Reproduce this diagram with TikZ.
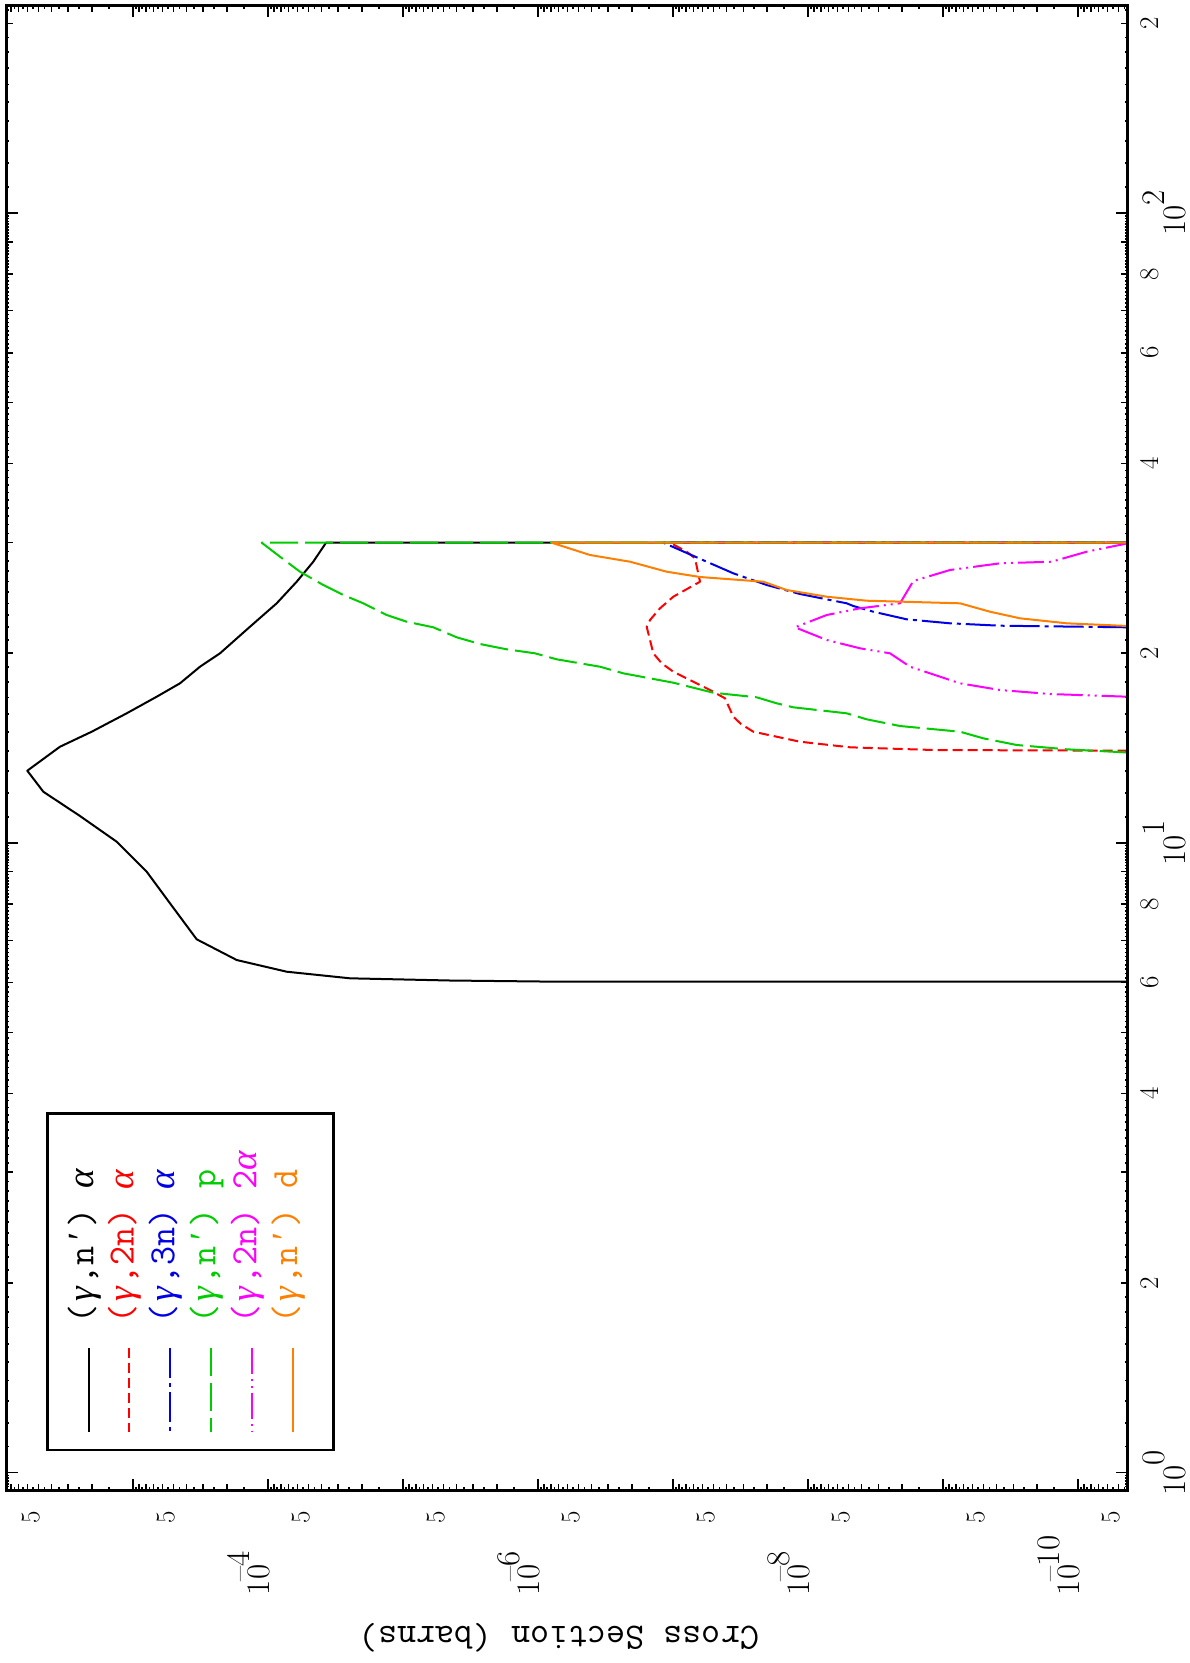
\documentclass[tikz,border=0pt]{standalone}
\usepackage{fontspec}
\newfontfamily\grkfont{Liberation Serif}
\definecolor{pgred}{RGB}{255,0,0}
\definecolor{pgblue}{RGB}{0,0,230}
\definecolor{pggreen}{RGB}{0,204,0}
\definecolor{pgmag}{RGB}{255,0,255}
\definecolor{pgorange}{RGB}{255,128,0}
\newcommand{\decl}[1]{10\raisebox{0.62em}{#1}}
\newcommand{\Gm}{\makebox[0.525em]{\grkfont\itshape γ}}
\newcommand{\Al}{\makebox[0.525em]{\grkfont\itshape α}}
\newcommand{\Prm}{\makebox[0.525em]{\grkfont ′}}
\tikzset{
  frameline/.style={line width=3pt},
  tickline/.style={line width=1.6pt},
  crv/.style={line width=2pt, line join=round},
  majlab/.style={inner sep=0pt, outer sep=0pt, rotate=90, font=\fontsize{33}{33}\selectfont},
  minlab/.style={inner sep=0pt, outer sep=0pt, rotate=90, anchor=base, font=\fontsize{27}{27}\selectfont},
  legtext/.style={inner sep=0pt, outer sep=0pt, rotate=90, anchor=base west, font=\ttfamily\fontsize{37}{37}\selectfont},
  dshred/.style={dash pattern=on 10pt off 5pt},
  dshblue/.style={dash pattern=on 30pt off 5pt on 4pt off 5pt},
  dshgreen/.style={dash pattern=on 28pt off 7pt},
  dshmag/.style={dash pattern=on 26pt off 5pt on 2pt off 5pt on 2pt off 5pt},
}
\begin{document}
\begin{tikzpicture}[x=1pt,y=-1pt]
\useasboundingbox (0,0) rectangle (1190,1663);
\fill[white] (0,0) rectangle (1190,1663);

% ---------- ticks: energy axis (left and right edges)
\foreach \d in {-1,0,1,2}{
  \foreach \k in {10,...,99}{
    \pgfmathsetmacro{\yy}{1472.6-629.8*(\d+log10(\k/10))}
    \pgfmathsetmacro{\ll}{ifthenelse(\k==10,12,ifthenelse(mod(\k,10)==0,6.5,3))}
    \ifdim \yy pt>6pt\relax\ifdim \yy pt<1489pt\relax
      \draw[tickline] (1127.7,\yy) -- ++(-\ll,0);
      \draw[tickline] (6,\yy) -- ++(\ll,0);
    \fi\fi
  }
}
% ---------- ticks: cross-section axis (top and bottom edges)
\foreach \d in {-11,...,-3}{
  \foreach \k in {2,...,19}{
    \pgfmathsetmacro{\xx}{267.7-135*(\d+4+log10(\k/2))}
    \pgfmathsetmacro{\ll}{ifthenelse(\k==2,12,ifthenelse(mod(\k,2)==0,7,4))}
    \ifdim \xx pt>7pt\relax\ifdim \xx pt<1126.7pt\relax
      \draw[tickline] (\xx,1490.7) -- ++(0,-\ll);
      \draw[tickline] (\xx,5) -- ++(0,\ll);
    \fi\fi
  }
}

% ---------- curves
% (gamma,n') alpha  -- black
\draw[crv, black] (1127.7,981.5) -- (541,981.5) -- (450,980.5) -- (350,978.3) -- (286.7,971.7) -- (236.7,960) -- (196.7,939.3) -- (170,903.3) -- (146.7,871.7) -- (116.7,841.7) -- (80,816) -- (43.3,791.7) -- (27.3,770.7) -- (60,746.7) -- (91.7,731.7) -- (126.7,713.3) -- (156.7,696.7) -- (180,683.3) -- (200,666.7) -- (220,653.3) -- (250,626.7) -- (276.7,603.3) -- (296.7,581.7) -- (313.3,561.7) -- (326,542.7) -- (1127.7,542.7);
% (gamma,2n) alpha -- red dashed
\draw[crv, pgred, dshred] (1127.7,750.7) -- (933.3,750) -- (850,747.3) -- (800,741.7) -- (753.3,731.7) -- (741,724) -- (733.3,716.7) -- (725,698.3) -- (710,690) -- (700,685) -- (673.3,671.7) -- (661.7,663.3) -- (653.3,653.3) -- (646.7,626.7) -- (650,620) -- (660,608.3) -- (673.3,596.7) -- (700,581.7) -- (695,558.3) -- (686.7,551.7) -- (670,542.7) -- (1127.7,542.7);
% (gamma,3n) alpha -- blue dash-dot
\draw[crv, pgblue, dshblue] (1127.7,627.3) -- (1000,625.7) -- (950,623.3) -- (906.7,619.3) -- (873.3,611.7) -- (853.3,606) -- (846.7,603.3) -- (800,594) -- (766.7,585) -- (733.3,573.3) -- (706.7,561.7) -- (663.3,542.7) -- (1127.7,542.7);
% (gamma,n') p -- green long dash
\draw[crv, pggreen, dshgreen] (1127.7,752.5) -- (1066.7,749.3) -- (1016.7,745) -- (983.3,738.3) -- (960,731.7) -- (900,726) -- (866.7,719.3) -- (846.7,713.3) -- (793.3,707.3) -- (776.7,703.3) -- (756.7,697.3) -- (713.3,692.7) -- (673.3,682.7) -- (623.3,673.3) -- (600,666.7) -- (556.7,659.3) -- (535,653.3) -- (506.7,649.3) -- (480,644) -- (456.7,637.3) -- (433.3,627.3) -- (406.7,621.7) -- (386.7,615) -- (363.3,603.3) -- (343.3,595) -- (323.3,585) -- (300,571.7) -- (280,556.7) -- (261.7,542.7) -- (1127.7,542.7);
% (gamma,2n) 2alpha -- magenta
\draw[crv, pgmag, dshmag] (1127.7,696.7) -- (1050,694) -- (1000,690) -- (960,683.3) -- (910,666.7) -- (890,653.3) -- (860,648.3) -- (826.7,640) -- (795,627.3) -- (826.7,615) -- (860,608.3) -- (900,603.3) -- (913.3,581) -- (950,570) -- (1000,563.3) -- (1051.7,561.7) -- (1086.7,551.7) -- (1127.7,543.3);
% (gamma,n') d -- orange solid
\draw[crv, pgorange] (1127.7,626) -- (1066.7,623.3) -- (1020,618.3) -- (990,611.7) -- (960,603.3) -- (866.7,600.7) -- (826.7,596.7) -- (786.7,590) -- (763.3,581.7) -- (700,577) -- (666.7,571.7) -- (630,561.7) -- (590,555) -- (551.7,542.7) -- (1127.7,542.7);

% ---------- frame
\draw[frameline] (6,5) rectangle (1127.7,1490.7);

% ---------- energy labels (right)
\node[majlab, anchor=base] (e0) at (1185,1472.6) {\decl{0}};
\node[majlab, anchor=base] (e1) at (1185,842.8) {\decl{1}};
\node[majlab, anchor=base] (e2) at (1185,213) {\decl{2}};
\node[minlab] (m2a) at (1158,1283.0) {2};
\node[minlab] (m4a) at (1158,1093.5) {4};
\node[minlab] (m6a) at (1158,982.5) {6};
\node[minlab] (m8a) at (1158,903.8) {8};
\node[minlab] (m2b) at (1158,653.2) {2};
\node[minlab] (m4b) at (1158,463.6) {4};
\node[minlab] (m6b) at (1158,352.7) {6};
\node[minlab] (m8b) at (1158,274.0) {8};
\node[minlab] (m2c) at (1158,23.4) {2};

% ---------- cross-section labels (bottom)
\node[majlab, anchor=base west] (s4) at (269.7,1595) {\decl{\kern-0.5em--4}};
\node[majlab, anchor=base west] (s6) at (539.7,1595) {\decl{\kern-0.5em--6}};
\node[majlab, anchor=base west] (s8) at (809.7,1595) {\decl{\kern-0.5em--8}};
\node[majlab, anchor=base west] (s10) at (1079.7,1595) {\decl{\kern-0.5em--10}};
\foreach \xv [count=\i] in {38.3,173.3,308.3,443.3,578.3,713.3,848.3,983.3,1118.3}{
  \node[minlab] (f\i) at (\xv+1,1517) {5};
}
\node[rotate=180, inner sep=0pt, font=\ttfamily\fontsize{37}{37}\selectfont] (title) at (559,1638) {Cross Section (barns)};

% ---------- legend
\draw[line width=2.5pt] (47.5,1113.3) rectangle (333.5,1450);
\coordinate (la1) at (89,1348); \coordinate (lb1) at (89,1432);
\coordinate (la2) at (129.3,1348); \coordinate (lb2) at (129.3,1432);
\coordinate (la3) at (170,1348); \coordinate (lb3) at (170,1432);
\coordinate (la4) at (211,1348); \coordinate (lb4) at (211,1432);
\coordinate (la5) at (252,1348); \coordinate (lb5) at (252,1432);
\coordinate (la6) at (292.7,1348); \coordinate (lb6) at (292.7,1432);
\draw[crv, black] (la1) -- (lb1);
\draw[crv, pgred, dshred] (la2) -- (lb2);
\draw[crv, pgblue, dshblue] (la3) -- (lb3);
\draw[crv, pggreen, dshgreen] (la4) -- (lb4);
\draw[crv, pgmag, dshmag] (la5) -- (lb5);
\draw[crv, pgorange] (la6) -- (lb6);
\node[legtext, text=black] (t1) at (93.3,1323) {(\Gm,n\Prm) \Al};
\node[legtext, text=pgred] (t2) at (133.6,1323) {(\Gm,2n) \Al};
\node[legtext, text=pgblue] (t3) at (174.3,1323) {(\Gm,3n) \Al};
\node[legtext, text=pggreen] (t4) at (215.3,1323) {(\Gm,n\Prm) p};
\node[legtext, text=pgmag] (t5) at (256.3,1323) {(\Gm,2n) 2\Al};
\node[legtext, text=pgorange] (t6) at (297,1323) {(\Gm,n\Prm) d};
\end{tikzpicture}
\end{document}
